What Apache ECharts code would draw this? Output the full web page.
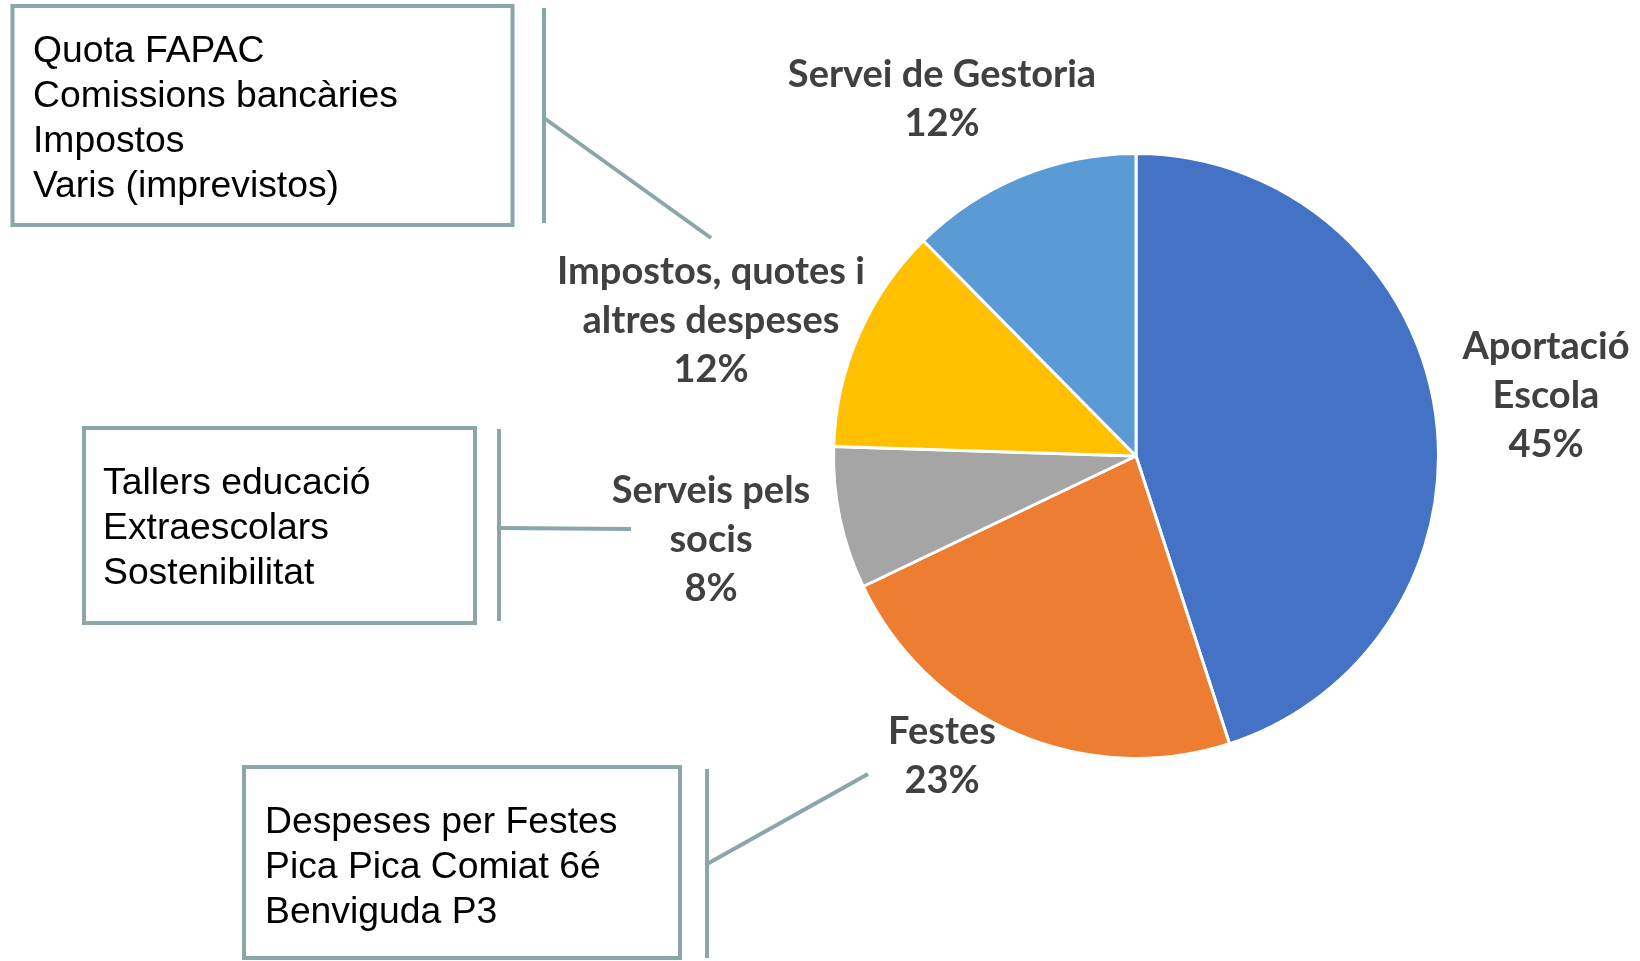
<!DOCTYPE html>
<html>
<head>
<meta charset="utf-8">
<script src="https://cdn.jsdelivr.net/npm/echarts@6/dist/echarts.min.js"></script>
<style>
html,body{margin:0;padding:0;background:#fff;}
#main{width:1640px;height:961px;}
</style>
</head>
<body>
<div id="main"></div>
<script>
// ---- data ----
var categories = ['Aportació\nEscola', 'Festes', 'Serveis pels\nsocis', 'Impostos, quotes i\naltres despeses', 'Servei de Gestoria'];
var values = [45.0, 22.9, 7.6, 12.1, 12.4];
var sliceColors = ['#4472C4', '#ED7D31', '#A5A5A5', '#FFC000', '#5B9BD5'];
var noteImpostos = ['Quota FAPAC', 'Comissions bancàries', 'Impostos', 'Varis (imprevistos)'];
var noteServeis = ['Tallers educació', 'Extraescolars', 'Sostenibilitat'];
var noteFestes = ['Despeses per Festes', 'Pica Pica Comiat 6é', 'Benviguda P3'];

// ---- layout ----
var labelCenters = [[1546, 396], [942, 756], [711, 540], [711, 321], [942, 99]];
var boxStroke = '#8AA6A8';
var noteFont = '37.3px "Liberation Sans", Arial, sans-serif';

function box(x, y, w, h) {
  return { type: 'rect', shape: { x: x, y: y, width: w, height: h },
    style: { fill: '#fff', stroke: boxStroke, lineWidth: 4 }, z: 10 };
}
function note(lines, x, yc) {
  return { type: 'text', x: x, y: yc, z: 11,
    style: { text: lines.join('\n'), font: noteFont, fill: '#000', lineHeight: 45,
      align: 'left', verticalAlign: 'middle' } };
}
function seg(points) {
  return { type: 'polyline', shape: { points: points },
    style: { stroke: boxStroke, lineWidth: 4, fill: null }, z: 10 };
}

var chart = echarts.init(document.getElementById('main'), null, { renderer: 'canvas' });
chart.setOption({
  animation: false,
  backgroundColor: '#ffffff',
  series: [{
    type: 'pie',
    center: [1136, 456],
    radius: 302.5,
    startAngle: 90,
    clockwise: true,
    percentPrecision: 0,
    avoidLabelOverlap: false,
    data: categories.map(function (c, i) {
      return { name: c, value: values[i], itemStyle: { color: sliceColors[i] } };
    }),
    itemStyle: { borderColor: '#ffffff', borderWidth: 3 },
    label: {
      show: true,
      position: 'outside',
      formatter: '{b}\n{d}%',
      fontFamily: 'Lato, "Open Sans", sans-serif',
      fontWeight: 'bold',
      fontSize: 38,
      lineHeight: 49,
      color: '#404040',
      align: 'center'
    },
    labelLine: { show: false },
    labelLayout: function (p) {
      var c = labelCenters[p.dataIndex];
      return { x: c[0], y: c[1], align: 'center', verticalAlign: 'middle' };
    },
    emphasis: { disabled: true }
  }],
  graphic: [
    box(12.5, 6, 500, 219),
    note(noteImpostos, 33, 119),
    seg([[544, 8], [544, 223]]),
    seg([[544, 118], [711, 238]]),

    box(84, 428, 391, 195),
    note(noteServeis, 103, 529),
    seg([[499, 429], [499, 621]]),
    seg([[499, 528], [631, 529]]),

    box(244, 767, 436, 191),
    note(noteFestes, 265, 868),
    seg([[707, 769], [707, 958]]),
    seg([[707, 864], [868, 774]])
  ]
});
</script>
</body>
</html>
